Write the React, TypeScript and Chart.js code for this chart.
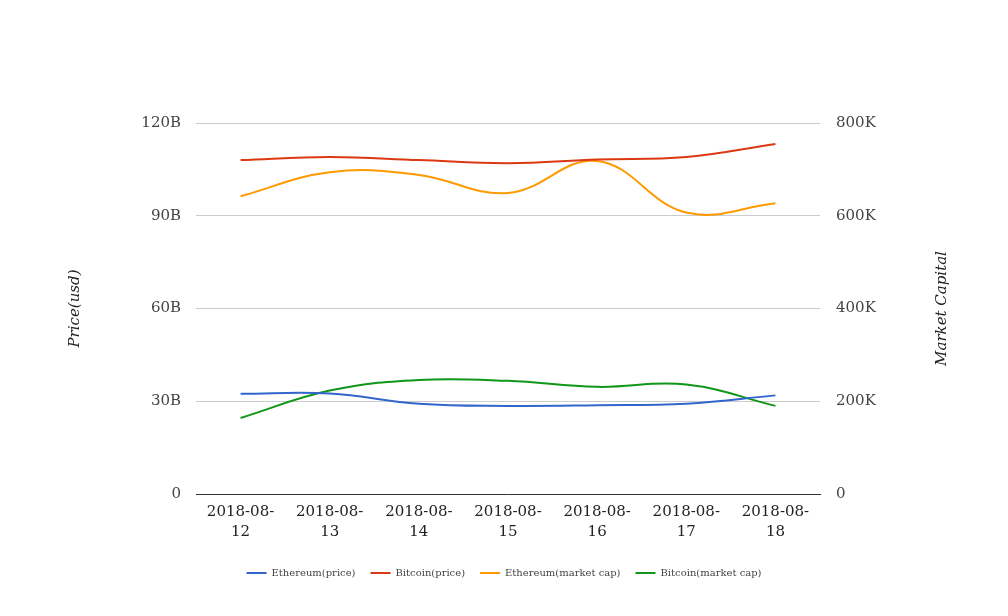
import React, { useEffect, useRef } from "react";
import { Chart, registerables } from "chart.js";

Chart.register(...registerables);

const dates = ["2018-08-12", "2018-08-13", "2018-08-14", "2018-08-15", "2018-08-16", "2018-08-17", "2018-08-18"];
// Left axis (billions)
const ethereumPrice = [32.4, 32.5, 29.2, 28.5, 28.7, 29.2, 31.9];
const bitcoinPrice = [108.0, 109.0, 108.0, 107.0, 108.2, 109.0, 113.2];
// Right axis (thousands)
const ethereumCap = [642, 694, 688, 649, 718, 607, 627];
const bitcoinCap = [164, 223, 246, 244, 231, 236, 190];

const leftTicks = [0, 30, 60, 90, 120];
const rightTicks = [0, 200, 400, 600, 800];

const FONT = "'DejaVu Serif', serif";

export default function App() {
  const ref = useRef<HTMLCanvasElement>(null);
  useEffect(() => {
    if (!ref.current) return;
    const rightTitle = {
      id: "rightTitle",
      afterDraw(chart: any) {
        const ctx = chart.ctx;
        const area = chart.chartArea;
        ctx.save();
        ctx.translate(942, (area.top + area.bottom) / 2);
        ctx.rotate(-Math.PI / 2);
        ctx.font = `italic 15px ${FONT}`;
        ctx.fillStyle = "#222";
        ctx.textAlign = "center";
        ctx.textBaseline = "middle";
        ctx.fillText("Market Capital", 0, 0);
        ctx.restore();
      },
    };
    const mk = (label: string, data: number[], color: string, axis: string, mult: number) => ({
      label,
      data: data.map((v) => v * mult),
      borderColor: color,
      backgroundColor: color,
      borderWidth: 2,
      pointRadius: 0,
      tension: 0.4,
      yAxisID: axis,
    });
    const chart = new Chart(ref.current, {
      type: "line",
      data: {
        labels: dates.map((d) => [d.slice(0, 8), d.slice(8)]),
        datasets: [
          mk("Ethereum(price)", ethereumPrice, "#3366cc", "y", 1e9),
          mk("Bitcoin(price)", bitcoinPrice, "#dc3912", "y", 1e9),
          mk("Ethereum(market cap)", ethereumCap, "#ff9900", "y1", 1e3),
          mk("Bitcoin(market cap)", bitcoinCap, "#109618", "y1", 1e3),
        ],
      },
      options: {
        animation: false,
        responsive: false,
        layout: { padding: { top: 123, bottom: 28, left: 0, right: 0 } },
        plugins: {
          legend: {
            position: "bottom",
            labels: {
              boxWidth: 20,
              boxHeight: 0,
              padding: 15,
              color: "#444",
              font: { family: FONT, size: 10 },
            },
          },
          tooltip: { enabled: false },
        },
        scales: {
          x: {
            offset: true,
            grid: { display: false, drawTicks: false, offset: true },
            border: { display: true, color: "#333", width: 1 },
            ticks: {
              color: "#222",
              padding: 8,
              maxRotation: 0,
              autoSkip: false,
              font: { family: FONT, size: 15, lineHeight: 1.33 },
            },
            afterFit: (s: any) => {
              s.height = 59;
              s.paddingLeft = 0;
              s.paddingRight = 0;
            },
          },
          y: {
            position: "left",
            min: 0,
            max: 120e9,
            afterBuildTicks: (s: any) => {
              s.ticks = leftTicks.map((v) => ({ value: v * 1e9 }));
            },
            ticks: {
              color: "#444",
              padding: 15,
              font: { family: FONT, size: 15 },
              callback: (v: any) => (v === 0 ? "0" : `${v / 1e9}B`),
            },
            grid: { color: "#cccccc", drawTicks: false },
            border: { display: false },
            title: {
              display: true,
              text: "Price(usd)",
              color: "#222",
              padding: { top: 66, bottom: 0 },
              font: { family: FONT, size: 15, style: "italic" },
            },
            afterFit: (s: any) => {
              s.width = 196;
              s.paddingTop = 0;
              s.paddingBottom = 0;
            },
          },
          y1: {
            position: "right",
            min: 0,
            max: 800e3,
            afterBuildTicks: (s: any) => {
              s.ticks = rightTicks.map((v) => ({ value: v * 1e3 }));
            },
            ticks: {
              color: "#444",
              padding: 16,
              font: { family: FONT, size: 15 },
              callback: (v: any) => (v === 0 ? "0" : `${v / 1e3}K`),
            },
            grid: { display: false, drawTicks: false },
            border: { display: false },
            afterFit: (s: any) => {
              s.width = 188;
              s.paddingTop = 0;
              s.paddingBottom = 0;
            },
          },
        },
      },
      plugins: [rightTitle],
    });
    return () => chart.destroy();
  }, []);
  return (
    <div style={{ position: "fixed", left: 0, top: 0, width: 1008, height: 616, background: "#fff" }}>
      <canvas ref={ref} width={1008} height={616} style={{ width: 1008, height: 616 }} />
    </div>
  );
}
